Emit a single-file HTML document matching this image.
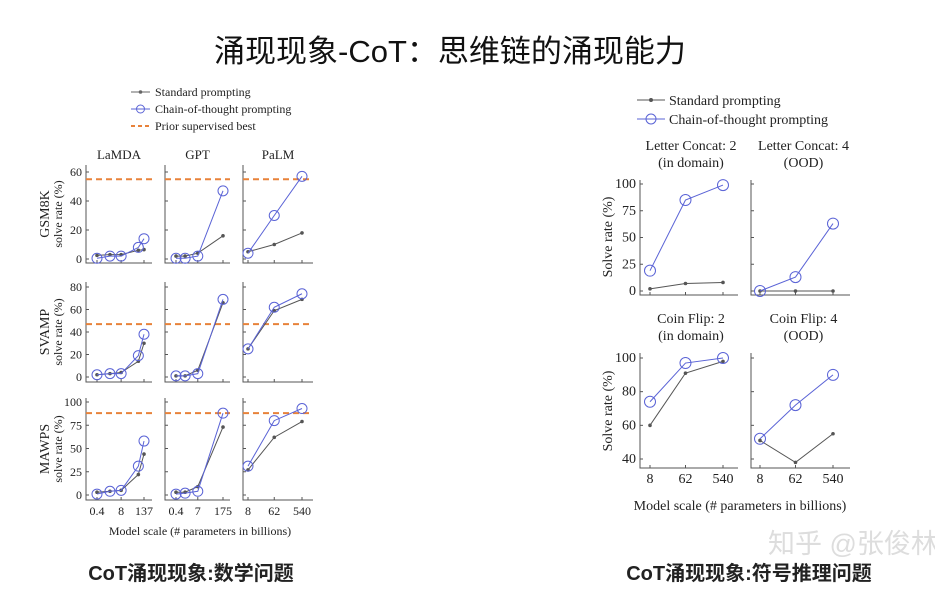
<!DOCTYPE html>
<html><head><meta charset="utf-8"><style>
body{margin:0;background:#fff;width:935px;height:614px;overflow:hidden}
svg{display:block}
</style></head><body>
<svg id="c" width="935" height="614" xmlns="http://www.w3.org/2000/svg">
<text x="450" y="62" text-anchor="middle" font-size="31" font-family="Liberation Sans, Noto Sans CJK SC, sans-serif" fill="#111">涌现现象-CoT：思维链的涌现能力</text>
<text x="191" y="580" text-anchor="middle" font-size="20" font-weight="bold" font-family="Liberation Sans, Noto Sans CJK SC, sans-serif" fill="#222">CoT涌现现象:数学问题</text>
<text x="749" y="580" text-anchor="middle" font-size="20" font-weight="bold" font-family="Liberation Sans, Noto Sans CJK SC, sans-serif" fill="#222">CoT涌现现象:符号推理问题</text>
<text x="768" y="553" font-size="27" font-family="Liberation Sans, Noto Sans CJK SC, sans-serif" fill="#ddd">知乎 @张俊林</text>
<g id="plots"></g>
</svg>
<script>
// ---- math chart data ----
const mathRows = ["GSM8K","SVAMP","MAWPS"];
const mathModels = ["LaMDA","GPT","PaLM"];
const lamdaSizes = [0.4,2,8,68,137];
const gptSizes = [0.4,1.3,6.7,175];
const palmSizes = [8,62,540];
const gsmLamdaStd=[2.5,3,3,6,6.5], gsmLamdaCot=[0.5,2,2,8,14];
const gsmGptStd=[2,2,4,16], gsmGptCot=[0.5,0.5,2,47];
const gsmPalmStd=[5,10,18], gsmPalmCot=[4,30,57];
const svLamdaStd=[2,3,4,14,30], svLamdaCot=[2,3,3,19,38];
const svGptStd=[1,1,6,66], svGptCot=[1,1,3,69];
const svPalmStd=[25,59,69], svPalmCot=[25,62,74];
const mwLamdaStd=[3,4,5,22,44], mwLamdaCot=[1,4,5,31,58];
const mwGptStd=[3,3,9,73], mwGptCot=[1,2,4,88];
const mwPalmStd=[27,62,79], mwPalmCot=[31,80,93];
const priorBest=[55,47,88];
const gsmTicks=[0,20,40,60], svTicks=[0,20,40,60,80], mwTicks=[0,25,50,75,100];
const lamdaTickLabels=["0.4","8","137"], gptTickLabels=["0.4","7","175"], palmTickLabels=["8","62","540"];
// ---- symbolic chart data ----
const symSizes=[8,62,540];
const symTitles=[["Letter Concat: 2","(in domain)"],["Letter Concat: 4","(OOD)"],["Coin Flip: 2","(in domain)"],["Coin Flip: 4","(OOD)"]];
const lc2Std=[2,7,8], lc2Cot=[19,85,99];
const lc4Std=[0,0,0], lc4Cot=[0,13,63];
const cf2Std=[60,91,98], cf2Cot=[74,97,100];
const cf4Std=[51,38,55], cf4Cot=[52,72,90];
const lcTicks=[0,25,50,75,100], cfTicks=[40,60,80,100];

const NS="http://www.w3.org/2000/svg";
const root=document.getElementById('plots');
function mk(tag,attrs,parent,txt){const e=document.createElementNS(NS,tag);for(const k in attrs)e.setAttribute(k,attrs[k]);if(txt!==undefined)e.textContent=txt;(parent||root).appendChild(e);return e;}
const FS="Liberation Serif, serif";

function panel(o){
  const g=mk('g',{});
  
  
  const ly=v=>o.yv0+(v-o.vmin)*(o.yv1-o.yv0)/(o.vmax-o.vmin);
  const lmin=Math.log10(o.sizes[0]), lmax=Math.log10(o.sizes[o.sizes.length-1]);
  const lx=s=>o.px0+(Math.log10(s)-lmin)*(o.px1-o.px0)/(lmax-lmin);
  const ax=mk('path',{d:`M${o.x0} ${o.top}V${o.bot}H${o.x1}`,stroke:'#555','stroke-width':1,fill:'none'},g);
  
  
  o.ticks.forEach(t=>{
    mk('line',{x1:o.x0,x2:o.x0+3,y1:ly(t),y2:ly(t),stroke:'#555'},g);
    if(o.showY){const tl=mk('text',{x:o.x0-4,y:ly(t)+4,'text-anchor':'end','font-size':o.fs,'font-family':FS,fill:'#222'},g,String(t));
      
      }
  });
  if(o.tickVals){o.tickVals.forEach((s,i)=>{
    mk('line',{x1:lx(s),x2:lx(s),y1:o.bot,y2:o.bot-3,stroke:'#555'},g);
    if(o.showX){const tl=mk('text',{x:lx(s),y:o.bot+15,'text-anchor':'middle','font-size':o.fs,'font-family':FS,fill:'#222'},g,o.tickLabels[i]);
      
      }
  });}
  if(o.prior!==undefined){const p=mk('line',{x1:o.x0,x2:o.x1,y1:ly(o.prior),y2:ly(o.prior),stroke:'#e8823a','stroke-width':2,'stroke-dasharray':'6,4'},g);
    
    }
  const sp=o.std.map((v,i)=>lx(o.sizes[i])+','+ly(v)).join(' ');
  const sl=mk('polyline',{points:sp,fill:'none',stroke:'#555','stroke-width':1},g);
  
  
  o.std.forEach((v,i)=>{const c=mk('circle',{cx:lx(o.sizes[i]),cy:ly(v),r:1.8,fill:'#555'},g);
    
    });
  const cp=o.cot.map((v,i)=>lx(o.sizes[i])+','+ly(v)).join(' ');
  const cl=mk('polyline',{points:cp,fill:'none',stroke:'#5a63d6','stroke-width':1},g);
  
  
  o.cot.forEach((v,i)=>{const c=mk('circle',{cx:lx(o.sizes[i]),cy:ly(v),r:o.r,fill:'none',stroke:'#5a63d6','stroke-width':1},g);
    
    });
}

const colX=[[86,152,97,144],[165,230,176,223],[243,313,248,302]];
const rowY=[{top:165,bot:263,v0:259,v1:172,vmax:60,ticks:gsmTicks},{top:282,bot:382,v0:377,v1:287,vmax:80,ticks:svTicks},{top:398,bot:500,v0:495,v1:402,vmax:100,ticks:mwTicks}];
const sizesArr=[lamdaSizes,gptSizes,palmSizes];
const mathData=[[[gsmLamdaStd,gsmLamdaCot],[gsmGptStd,gsmGptCot],[gsmPalmStd,gsmPalmCot]],
 [[svLamdaStd,svLamdaCot],[svGptStd,svGptCot],[svPalmStd,svPalmCot]],
 [[mwLamdaStd,mwLamdaCot],[mwGptStd,mwGptCot],[mwPalmStd,mwPalmCot]]];
const tickLbls=[lamdaTickLabels,gptTickLabels,palmTickLabels];
const tickValsArr=[[0.4,8,137],[0.4,6.7,175],[8,62,540]];
for(let r=0;r<3;r++)for(let c=0;c<3;c++){
  const R=rowY[r],C=colX[c];
  panel({name:'panel-'+mathRows[r].toLowerCase()+'-'+mathModels[c].toLowerCase(),x0:C[0],x1:C[1],px0:C[2],px1:C[3],top:R.top,bot:R.bot,yv0:R.v0,yv1:R.v1,vmin:0,vmax:R.vmax,ticks:R.ticks,
    sizes:sizesArr[c],std:mathData[r][c][0],cot:mathData[r][c][1],prior:priorBest[r],showY:c===0,showX:r===2,tickVals:tickValsArr[c],tickLabels:tickLbls[c],fs:12,r:5});
}
mathModels.forEach((m,c)=>{const t=mk('text',{x:(colX[c][0]+colX[c][1])/2,y:159,'text-anchor':'middle','font-size':13,'font-family':FS,fill:'#222'},root,m);
  
  });
mathRows.forEach((m,r)=>{const cy=(rowY[r].top+rowY[r].bot)/2;
  const t=mk('text',{transform:`translate(49 ${cy}) rotate(-90)`,'text-anchor':'middle','font-size':14,'font-family':FS,fill:'#222'},root,m);
  
  
  const t2=mk('text',{transform:`translate(62 ${cy}) rotate(-90)`,'text-anchor':'middle','font-size':12,'font-family':FS,fill:'#222'},root,'solve rate (%)');
  
  });
{const t=mk('text',{x:200,y:535,'text-anchor':'middle','font-size':12,'font-family':FS,fill:'#222'},root,'Model scale (# parameters in billions)');

}
[['Standard prompting','s',92],['Chain-of-thought prompting','c',109],['Prior supervised best','p',126]].forEach(e=>{
  const g=mk('g',{});
  
  
  if(e[1]==='p')mk('line',{x1:131,x2:150,y1:e[2],y2:e[2],stroke:'#e8823a','stroke-width':2,'stroke-dasharray':'4,3'},g);
  else{const col=e[1]==='s'?'#666':'#5a63d6';mk('line',{x1:131,x2:150,y1:e[2],y2:e[2],stroke:col},g);
    if(e[1]==='s')mk('circle',{cx:140.5,cy:e[2],r:1.8,fill:col},g);else mk('circle',{cx:140.5,cy:e[2],r:4,fill:'none',stroke:col},g);}
  mk('text',{x:155,y:e[2]+4,'font-size':12,'font-family':FS,fill:'#222'},g,e[0]);
});

const symPanels=[
 {x0:640,x1:738,px0:650,px1:723,top:180,bot:295,v0:291,v1:184,vmin:0,vmax:100,ticks:lcTicks,std:lc2Std,cot:lc2Cot,showY:true,showX:false},
 {x0:751,x1:850,px0:760,px1:833,top:180,bot:295,v0:291,v1:184,vmin:0,vmax:100,ticks:lcTicks,std:lc4Std,cot:lc4Cot,showY:false,showX:false},
 {x0:640,x1:738,px0:650,px1:723,top:353,bot:468,v0:459,v1:358,vmin:40,vmax:100,ticks:cfTicks,std:cf2Std,cot:cf2Cot,showY:true,showX:true},
 {x0:751,x1:850,px0:760,px1:833,top:353,bot:468,v0:459,v1:358,vmin:40,vmax:100,ticks:cfTicks,std:cf4Std,cot:cf4Cot,showY:false,showX:true}];
const symNames=['letter-concat-2','letter-concat-4','coin-flip-2','coin-flip-4'];
symPanels.forEach((p,i)=>{
  panel({name:'panel-'+symNames[i],x0:p.x0,x1:p.x1,px0:p.px0,px1:p.px1,top:p.top,bot:p.bot,yv0:p.v0,yv1:p.v1,vmin:p.vmin,vmax:p.vmax,ticks:p.ticks,
    sizes:symSizes,std:p.std,cot:p.cot,showY:p.showY,showX:p.showX,tickVals:symSizes,tickLabels:['8','62','540'],fs:14,r:5.5});
  const cx=(p.x0+p.x1)/2+(i%2===0?2:3), ty=p.top-30;
  const t=mk('text',{x:cx,y:ty,'text-anchor':'middle','font-size':14,'font-family':FS,fill:'#222'},root,symTitles[i][0]);
  
  
  const t2=mk('text',{x:cx,y:ty+17,'text-anchor':'middle','font-size':14,'font-family':FS,fill:'#222'},root,symTitles[i][1]);
  
  
});
[[237],[411]].forEach(a=>{const t=mk('text',{transform:`translate(612 ${a[0]}) rotate(-90)`,'text-anchor':'middle','font-size':14,'font-family':FS,fill:'#222'},root,'Solve rate (%)');
  
  });
{const t=mk('text',{x:740,y:510,'text-anchor':'middle','font-size':14,'font-family':FS,fill:'#222'},root,'Model scale (# parameters in billions)');

}
[['Standard prompting','s',100],['Chain-of-thought prompting','c',119]].forEach(e=>{
  const g=mk('g',{});
  
  
  const col=e[1]==='s'?'#555':'#5a63d6';
  mk('line',{x1:637,x2:665,y1:e[2],y2:e[2],stroke:col},g);
  if(e[1]==='s')mk('circle',{cx:651,cy:e[2],r:2,fill:col},g);else mk('circle',{cx:651,cy:e[2],r:5,fill:'none',stroke:col},g);
  mk('text',{x:669,y:e[2]+5,'font-size':14,'font-family':FS,fill:'#222'},g,e[0]);
});
</script>
</body></html>
